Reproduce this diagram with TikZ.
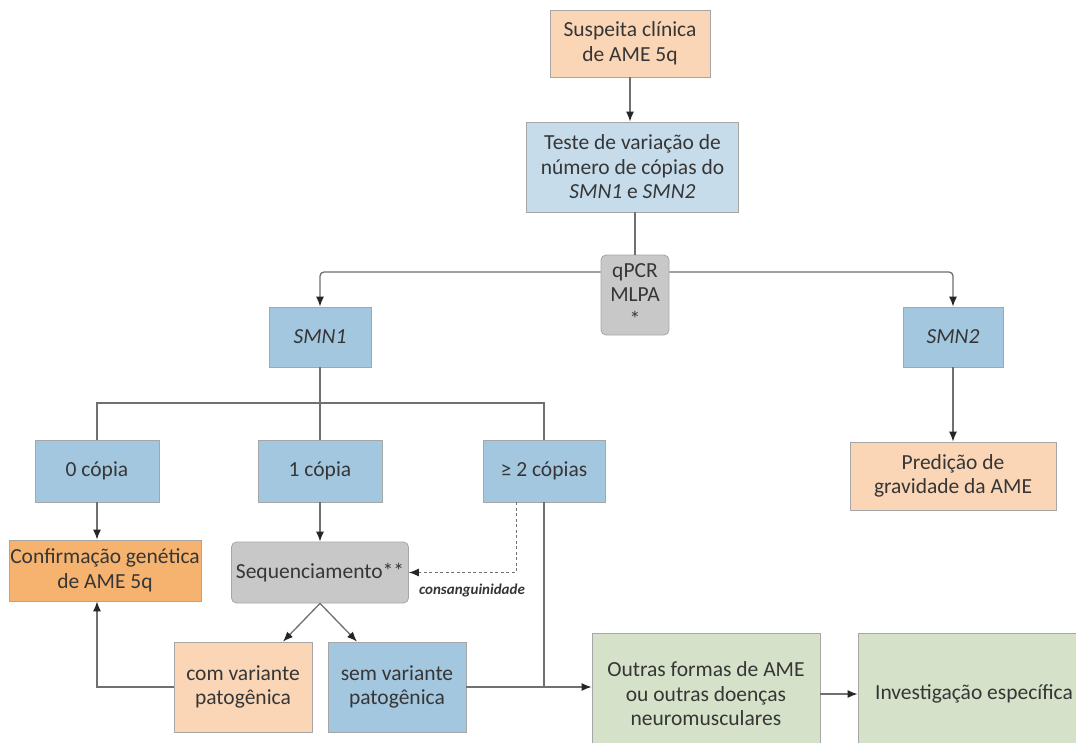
\documentclass[tikz,border=0pt]{standalone}
\usepackage{fontspec}
\setmainfont{Carlito}
\usetikzlibrary{arrows.meta,calc}
\definecolor{peach}{HTML}{FAD6B6}
\definecolor{lblue}{HTML}{C6DCEA}
\definecolor{mblue}{HTML}{A3C7DE}
\definecolor{greybox}{HTML}{C8C8C8}
\definecolor{orangebox}{HTML}{F6B36F}
\definecolor{greenbox}{HTML}{D5E1C8}
\definecolor{linec}{HTML}{707070}
\definecolor{txt}{HTML}{363636}
\tikzset{
  box/.style={draw=black!35, line width=0.8pt, align=center, inner sep=0pt,
    text=txt, font=\fontsize{21.5}{24.5}\selectfont},
  conn/.style={draw=linec, line width=1.3pt},
  arr/.style={conn, -{Latex[length=10pt,width=8pt,color=black!85]}},
}
\begin{document}
\begin{tikzpicture}[x=1pt,y=-1pt]
\useasboundingbox (0,0) rectangle (1076,742);
\clip (0,0) rectangle (1076,742);
\fill[white] (0,0) rectangle (1076,742);

\node[box, fill=peach, minimum width=160pt, minimum height=67pt] (sus) at (630,43.5) {Suspeita clínica\\de AME 5q};
\node[box, fill=lblue, minimum width=212pt, minimum height=90pt] (teste) at (632.5,167) {Teste de variação de\\número de cópias do\\\textit{SMN1} e \textit{SMN2}};
\node[box, fill=greybox, rounded corners=5pt, minimum width=68pt, minimum height=80pt] (qpcr) at (635,295) {qPCR\\MLPA\\*};
\node[box, fill=mblue, minimum width=102pt, minimum height=60pt] (smn1) at (320,337) {\textit{SMN1}};
\node[box, fill=mblue, minimum width=100pt, minimum height=60pt] (smn2) at (953,337) {\textit{SMN2}};
\node[box, fill=peach, minimum width=206pt, minimum height=68pt] (pred) at (953,476) {Predição de\\gravidade da AME};
\node[box, fill=mblue, minimum width=124pt, minimum height=62pt] (c0) at (97,471) {0 cópia};
\node[box, fill=mblue, minimum width=124pt, minimum height=62pt] (c1) at (320,471) {1 cópia};
\node[box, fill=mblue, minimum width=122pt, minimum height=62pt] (c2) at (544,471) {≥ 2 cópias};
\node[box, fill=orangebox, minimum width=192pt, minimum height=61pt] (conf) at (105,570.5) {Confirmação genética\\de AME 5q};
\node[box, fill=greybox, rounded corners=5pt, minimum width=177pt, minimum height=61pt] (seq) at (320,572.5) {Sequenciamento**};
\node[box, fill=peach, minimum width=138pt, minimum height=90pt] (com) at (243,687) {com variante\\patogênica};
\node[box, fill=mblue, minimum width=138pt, minimum height=90pt] (sem) at (397,687) {sem variante\\patogênica};
\node[box, fill=greenbox, minimum width=228pt, minimum height=122pt] (outras) at (706,694) {Outras formas de AME\\ou outras doenças\\neuromusculares};
\node[box, fill=greenbox, minimum width=232pt, minimum height=122pt] (inv) at (974,694) {Investigação específica};

\coordinate (hl) at (635,272);
\coordinate (bus) at (320,403);

\draw[arr] (sus.south) -- (sus.south |- teste.north);
\draw[conn] (teste.south -| qpcr.north) -- (qpcr.north);
\draw[arr, rounded corners=4pt] (qpcr.west |- hl) -| (smn1.north);
\draw[arr, rounded corners=4pt] (qpcr.east |- hl) -| (smn2.north);
\draw[arr] (smn2.south) -- (pred.north);
\draw[conn] (smn1.south) -- (c1.north);
\draw[conn] (c0.north) |- (bus) -| (c2.north);
\draw[arr] (c0.south) -- (c0.south |- conf.north);
\draw[arr] (c1.south) -- (seq.north);
\draw[arr, dashed, line width=1pt, dash pattern=on 3pt off 2.5pt] ([xshift=-28pt]c2.south) |- (seq.east);
\node[text=txt, font=\fontsize{15}{17}\selectfont\bfseries\itshape] (cons) at (472,590) {consanguinidade};
\draw[conn] (c2.south) -- (c2.south |- sem.east);
\draw[arr] (sem.east) -- (sem.east -| outras.west);
\draw[arr] (com.west) -| (c0 |- conf.south);
\draw[arr] (seq.south) -- ([xshift=40pt]com.north);
\draw[arr] (seq.south) -- ([xshift=-40pt]sem.north);
\draw[arr] (outras.east) -- (inv.west);
\end{tikzpicture}
\end{document}
